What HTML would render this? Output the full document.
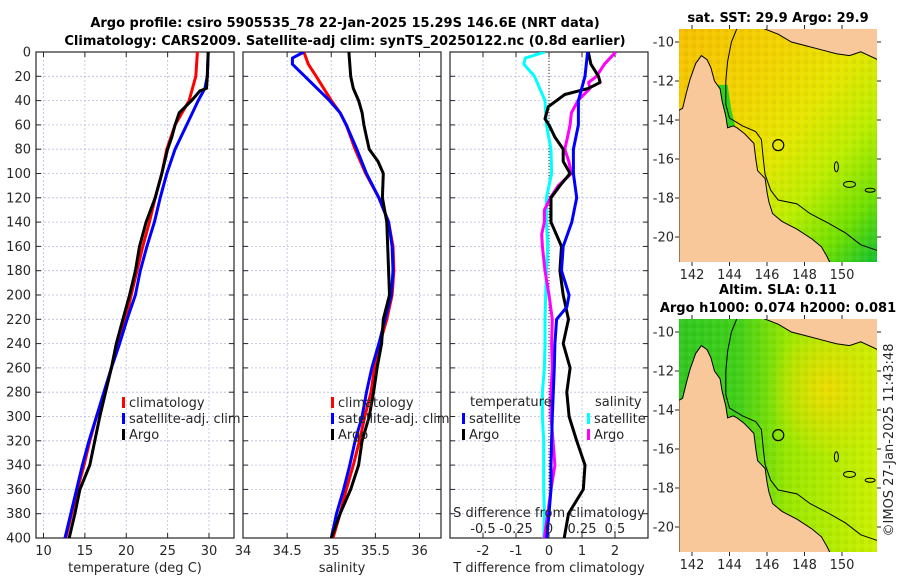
<!DOCTYPE html>
<html><head><meta charset="utf-8">
<style>
html,body{margin:0;padding:0;background:#fff;}
svg{display:block;font-family:"DejaVu Sans","Liberation Sans",sans-serif;}
text{fill:#262626;font-size:13px;}
.b{font-weight:bold;fill:#000;}
</style></head>
<body>
<svg id="fig" width="900" height="580" viewBox="0 0 900 580">
<defs>
<linearGradient id="sstg" x1="0" y1="0" x2="1" y2="1">
<stop offset="0" stop-color="#f6c000"/><stop offset="0.3" stop-color="#f2d400"/><stop offset="0.5" stop-color="#e6e600"/><stop offset="0.68" stop-color="#bcee00"/><stop offset="0.85" stop-color="#70e000"/><stop offset="1" stop-color="#10c030"/>
</linearGradient>
<linearGradient id="slag" x1="0" y1="0" x2="1" y2="0">
<stop offset="0" stop-color="#30c820"/><stop offset="0.3" stop-color="#40d018"/><stop offset="0.55" stop-color="#9ae800"/><stop offset="1" stop-color="#cdf000"/>
</linearGradient>
<radialGradient id="slay" cx="0.75" cy="0.3" r="0.3"><stop offset="0" stop-color="#ecdc00"/><stop offset="1" stop-color="#ecdc00" stop-opacity="0"/></radialGradient>
<pattern id="pix" width="8" height="8" patternUnits="userSpaceOnUse">
<rect x="0" y="0" width="4" height="4" fill="#fff" fill-opacity="0.05"/><rect x="4" y="4" width="4" height="4" fill="#000" fill-opacity="0.04"/>
</pattern>
<clipPath id="c1"><rect x="36" y="52" width="198" height="486"/></clipPath>
<clipPath id="c2"><rect x="243" y="52" width="198" height="486"/></clipPath>
<clipPath id="c3"><rect x="450" y="52" width="198" height="486"/></clipPath>
<clipPath id="cm1"><rect x="679" y="29" width="198" height="233"/></clipPath>
<clipPath id="cm2"><rect x="679" y="319" width="198" height="233"/></clipPath>
</defs>
<text class="b" x="345" y="27" text-anchor="middle">Argo profile: csiro 5905535_78 22-Jan-2025 15.29S 146.6E (NRT data)</text>
<text class="b" x="345" y="45" text-anchor="middle">Climatology: CARS2009. Satellite-adj clim: synTS_20250122.nc (0.8d earlier)</text>
<text class="b" x="778" y="22" text-anchor="middle">sat. SST: 29.9 Argo: 29.9</text>
<text class="b" x="778" y="294" text-anchor="middle">Altim. SLA: 0.11</text>
<text class="b" x="778" y="312" text-anchor="middle">Argo h1000: 0.074 h2000: 0.081</text>
<text x="0" y="0" transform="translate(893,440) rotate(-90)" text-anchor="middle">©IMOS 27-Jan-2025 11:43:48</text>
<g id="root"></g>
</svg>
<script>
// ---- data: depths (m) ----
const depthsT = [0,20,40,60,80,100,120,140,160,180,200,220,240,260,280,300,320,340,360,380,400];
const tempClim = [28.6,28.4,27.6,25.9,24.9,24.3,23.5,22.8,22.0,21.3,20.6,19.9,19.0,18.2,17.4,16.4,15.6,14.9,14.1,13.4,12.7];
const depthsTSat = [0,20,30,40,60,80,100,120,140,160,180,200,220,240,260,280,300,320,340,360,380,400];
const tempSat = [29.9,29.8,29.5,28.7,27.3,25.9,24.9,24.1,23.4,22.5,21.7,21.1,20.1,19.2,18.2,17.3,16.4,15.5,14.7,14.0,13.3,12.6];
const depthsArgo = [0,20,30,32,40,50,60,70,80,100,120,140,160,180,200,220,240,260,280,300,320,340,360,380,400];
const tempArgo = [29.9,29.8,29.7,28.9,27.9,26.4,25.9,25.5,25.0,24.3,23.5,22.4,21.6,21.1,20.4,19.6,18.8,18.2,17.5,16.8,16.2,15.6,14.4,13.8,13.1];

const depthsS = [0,10,20,40,50,60,80,100,120,140,160,180,200,220,240,260,280,300,320,340,360,380,400];
const salClim = [34.69,34.74,34.83,35.0,35.1,35.17,35.27,35.39,35.54,35.65,35.70,35.71,35.69,35.63,35.55,35.49,35.45,35.38,35.32,35.25,35.17,35.10,35.02];
const depthsSSat = [0,5,10,20,40,50,60,80,100,120,140,160,180,200,220,240,260,280,300,320,340,360,380,400];
const salSat = [34.69,34.56,34.56,34.70,34.98,35.1,35.17,35.29,35.40,35.54,35.65,35.69,35.70,35.68,35.61,35.54,35.46,35.40,35.35,35.27,35.21,35.14,35.06,35.0];
const depthsSArgo = [0,20,30,40,50,60,70,80,90,100,120,140,160,180,200,220,240,260,280,300,320,340,360,380,400];
const salArgo = [35.20,35.22,35.25,35.31,35.35,35.37,35.40,35.43,35.53,35.59,35.58,35.63,35.64,35.65,35.66,35.59,35.57,35.52,35.48,35.43,35.35,35.31,35.22,35.10,35.0];

const depthsDT = [0,20,40,60,80,100,120,140,160,180,200,210,220,240,260,280,300,320,340,360,380,400];
const dTSat = [1.17,1.09,0.89,0.89,0.74,0.74,0.84,0.69,0.43,0.38,0.61,0.54,0.23,0.18,0.16,0.13,0.10,0.08,0.06,0.06,0.0,-0.07];
const depthsDTArgo = [0,10,20,25,30,35,45,55,60,70,80,90,100,110,120,140,160,180,200,220,240,260,280,300,320,340,360,380,400];
const dTArgo = [1.19,1.27,1.5,1.55,1.19,0.48,-0.02,-0.12,0,0.18,0.43,0.43,0.64,0.33,0.06,0.06,0.38,0.33,0.43,0.59,0.43,0.64,0.54,0.61,0.84,1.09,1.04,0.59,0.46];
const depthsDS = [0,5,10,20,40,60,80,100,120,140,160,180,200,220,240,260,280,300,320,340,360,380,400];
const dSSat = [-0.03,-0.18,-0.19,-0.11,-0.03,-0.02,0.015,0.02,-0.02,-0.02,-0.01,-0.02,-0.025,-0.03,-0.03,-0.035,-0.05,-0.05,-0.04,-0.04,-0.04,-0.035,-0.04];
const depthsDSArgo = [0,10,20,25,30,40,50,60,70,80,90,100,110,120,130,140,150,160,180,200,220,240,260,280,300,320,340,360,380,400];
const dSArgo = [0.505,0.42,0.36,0.30,0.31,0.22,0.17,0.16,0.14,0.12,0.15,0.17,0.07,0.01,-0.035,-0.035,-0.055,-0.05,-0.03,0,0.025,0.02,0.025,0.015,0.015,0.03,0.045,0.015,-0.01,-0.035];

const depthTicks = [0,20,40,60,80,100,120,140,160,180,200,220,240,260,280,300,320,340,360,380,400];
const tempTicks = [10,15,20,25,30];
const salTicks = [34,34.5,35,35.5,36];
const dTTicks = [-2,-1,0,1,2];
const dSTickLabels = ["-0.5","-0.25","0","0.25","0.5"];
const dSTicks = [-0.5,-0.25,0,0.25,0.5];
const lonTicks = [142,144,146,148,150];
const latTicks = [-10,-12,-14,-16,-18,-20];

const NS="http://www.w3.org/2000/svg";
const root=document.getElementById('root');
function el(tag,attrs,parent){const e=document.createElementNS(NS,tag);for(const k in attrs)e.setAttribute(k,attrs[k]);(parent||root).appendChild(e);return e;}
function txt(s,x,y,anchor,parent){const t=el('text',{x:x,y:y,'text-anchor':anchor||'start'},parent);t.textContent=s;return t;}

const PT=52,PB=538;
const yD=d=>PT+(d/400)*(PB-PT);
function mkX(x0,x1,v0,v1){return v=>x0+(v-v0)/(v1-v0)*(x1-x0);}
const panels=[
 {x0:36,x1:234,fx:mkX(43.5,209,10,30),ticks:tempTicks,clip:'c1',name:'temperature-panel'},
 {x0:243,x1:441,fx:mkX(243,419.5,34,36),ticks:salTicks,clip:'c2',name:'salinity-panel'},
 {x0:450,x1:648,fx:mkX(549,582,0,1),ticks:dTTicks,clip:'c3',name:'difference-panel'}
];
panels.forEach((p,i)=>{
  const g=el('g',{});
  
  
  el('rect',{x:p.x0,y:PT,width:p.x1-p.x0,height:PB-PT,fill:'#fff'},g);
  depthTicks.forEach(d=>{
    const y=yD(d);
    el('line',{x1:p.x0,x2:p.x1,y1:y,y2:y,stroke:'#b8bde0','stroke-width':0.8,'stroke-dasharray':'2,2'},g);
    el('line',{x1:p.x0,x2:p.x0+5,y1:y,y2:y,stroke:'#262626'},g);
    el('line',{x1:p.x1-5,x2:p.x1,y1:y,y2:y,stroke:'#262626'},g);
    if(i===0){const t=txt(String(d),31,y+4.5,'end',g);}
  });
  p.ticks.forEach(v=>{
    const x=p.fx(v);
    el('line',{x1:x,x2:x,y1:PT,y2:PB,stroke:'#b8bde0','stroke-width':0.8,'stroke-dasharray':'2,2'},g);
    el('line',{x1:x,x2:x,y1:PB-5,y2:PB,stroke:'#262626'},g);
    el('line',{x1:x,x2:x,y1:PT,y2:PT+5,stroke:'#262626'},g);
    const t=txt(String(v),x,555,'middle',g);
    
    
  });
  el('rect',{x:p.x0,y:PT,width:p.x1-p.x0,height:PB-PT,fill:'none',stroke:'#262626','stroke-width':1.2},g);
});
function line(fx,depths,vals,color,clip,name){
  const pts=depths.map((d,i)=>fx(vals[i]).toFixed(1)+','+yD(d).toFixed(1)).join(' ');
  const l=el('polyline',{points:pts,fill:'none',stroke:color,'stroke-width':3,'stroke-linejoin':'round','clip-path':'url(#'+clip+')'});
  
  
}
const P=panels;
line(P[0].fx,depthsT,tempClim,'#ff0000','c1','temp-climatology-line');
line(P[0].fx,depthsTSat,tempSat,'#0000ff','c1','temp-satellite-line');
line(P[0].fx,depthsArgo,tempArgo,'#000000','c1','temp-argo-line');
line(P[1].fx,depthsS,salClim,'#ff0000','c2','sal-climatology-line');
line(P[1].fx,depthsSSat,salSat,'#0000ff','c2','sal-satellite-line');
line(P[1].fx,depthsSArgo,salArgo,'#000000','c2','sal-argo-line');
el('line',{x1:P[2].fx(0),x2:P[2].fx(0),y1:PT,y2:PB,stroke:'#333','stroke-width':1,'stroke-dasharray':'1,2'});
const fS=s=>P[2].fx(s*4);
line(fS,depthsDS,dSSat,'#00ffff','c3','sal-diff-satellite-line');
line(fS,depthsDSArgo,dSArgo,'#ff00ff','c3','sal-diff-argo-line');
line(P[2].fx,depthsDTArgo,dTArgo,'#000000','c3','temp-diff-argo-line');
line(P[2].fx,depthsDT,dTSat,'#0000ff','c3','temp-diff-satellite-line');
let t=txt('S difference from climatology',549,517,'middle');
dSTicks.forEach((v,i)=>{const tt=txt(dSTickLabels[i],fS(v),533,'middle');});
t=txt('temperature (deg C)',135,572,'middle');
t=txt('salinity',342,572,'middle');
t=txt('T difference from climatology',549,572,'middle');
function legend(x,y,color,label,name){
  const g=el('g',{});
  
  
  el('rect',{x:x,y:y-10,width:3,height:11,fill:color},g);
  txt(label,x+7,y,'start',g);
}
legend(122,407,'#ff0000','climatology','legend-climatology');
legend(122,423,'#0000ff','satellite-adj. clim','legend-satellite-adj');
legend(122,439,'#000000','Argo','legend-argo');
legend(331,407,'#ff0000','climatology','legend-climatology-2');
legend(331,423,'#0000ff','satellite-adj. clim','legend-satellite-adj-2');
legend(331,439,'#000000','Argo','legend-argo-2');
t=txt('temperature',470,406,'start');
t=txt('salinity',595,406,'start');
legend(462,423,'#0000ff','satellite','legend-temp-satellite');
legend(462,439,'#000000','Argo','legend-temp-argo');
legend(587,423,'#00ffff','satellite','legend-sal-satellite');
legend(587,439,'#ff00ff','Argo','legend-sal-argo');

// ---- maps ----
const coastAus=[[142.5,-10.7],[142.2,-11.1],[141.9,-11.9],[141.7,-12.6],[141.5,-13.4],[141.3,-13.5],[141.3,-21.4],[149.4,-21.4],[149.2,-21.0],[148.9,-20.5],[148.4,-20.1],[147.6,-19.6],[146.8,-19.2],[146.3,-18.8],[146.1,-18.2],[146.0,-17.7],[145.9,-17.0],[145.5,-16.6],[145.4,-16.0],[145.3,-15.2],[144.8,-14.7],[144.4,-14.4],[144.2,-14.3],[143.9,-14.4],[143.8,-13.8],[143.6,-13.0],[143.5,-12.4],[143.2,-12.0],[143.0,-11.3],[142.8,-10.9]];
const coastPNG=[[145.8,-9.3],[146.6,-9.6],[147.3,-10.0],[148.1,-10.2],[148.9,-10.4],[149.7,-10.6],[150.4,-10.7],[151.0,-10.5],[151.9,-10.9],[151.9,-9.3]];
const shelf=[[144.4,-9.3],[144.1,-10.0],[143.9,-11.0],[143.8,-12.0],[143.8,-13.2],[144.0,-13.9],[144.7,-14.3],[145.4,-14.6],[145.7,-15.0],[145.8,-16.0],[145.9,-16.8],[146.2,-17.6],[146.6,-18.1],[147.6,-18.3],[148.3,-18.8],[149.3,-19.3],[150.2,-19.8],[151.0,-20.4],[151.9,-20.7]];
const greenStrip=[[143.2,-12.2],[143.9,-12.2],[144.1,-13.5],[144.3,-14.3],[143.9,-14.4],[143.6,-13.0]];
function drawMap(y0,fill,clip,name,extra,strip){
  const x0=679,w=198,h=233;
  const lon=v=>692+(v-142)*18.75;
  const lat=v=>(y0+13)+(-10-v)*19.5;
  const g=el('g',{});
  
  
  const gc=el('g',{'clip-path':'url(#'+clip+')'},g);
  el('rect',{x:x0,y:y0,width:w,height:h,fill:fill},gc);
  if(extra) el('rect',{x:x0,y:y0,width:w,height:h,fill:extra},gc);
  el('rect',{x:x0,y:y0,width:w,height:h,fill:'url(#pix)'},gc);
  const pp=a=>a.map(p=>lon(p[0]).toFixed(1)+','+lat(p[1]).toFixed(1)).join(' ');
  if(strip) el('polygon',{points:pp(greenStrip),fill:'#30d020'},gc);
  el('polygon',{points:pp(coastAus),fill:'#f9c89a',stroke:'#000','stroke-width':1},gc);
  el('polygon',{points:pp(coastPNG),fill:'#f9c89a',stroke:'#000','stroke-width':1},gc);
  el('polyline',{points:pp(shelf),fill:'none',stroke:'#000','stroke-width':1},gc);
  el('ellipse',{cx:lon(149.7),cy:lat(-16.4),rx:2,ry:5,fill:'none',stroke:'#000'},gc);
  el('ellipse',{cx:lon(150.4),cy:lat(-17.3),rx:6,ry:3,fill:'none',stroke:'#000'},gc);
  el('ellipse',{cx:lon(151.5),cy:lat(-17.6),rx:5,ry:2,fill:'none',stroke:'#000'},gc);
  const m=el('circle',{cx:lon(146.6),cy:lat(-15.29),r:5.5,fill:'none',stroke:'#000','stroke-width':1.2},g);
  
  
  latTicks.forEach(v=>{
    const y=lat(v);
    el('line',{x1:x0+w,x2:x0+w+4,y1:y,y2:y,stroke:'#262626'},g);
    el('line',{x1:x0-4,x2:x0,y1:y,y2:y,stroke:'#262626'},g);
    const tt=txt(String(v),674,y+4.5,'end',g);
    
    
  });
  lonTicks.forEach(v=>{
    const x=lon(v);
    el('line',{x1:x,x2:x,y1:y0+h,y2:y0+h+4,stroke:'#262626'},g);
    el('line',{x1:x,x2:x,y1:y0-4,y2:y0,stroke:'#262626'},g);
    const tt=txt(String(v),x,y0+h+17,'middle',g);
    
    
  });
}
drawMap(29,'url(#sstg)','cm1','sst-map',null,true);
drawMap(319,'url(#slag)','cm2','sla-map','url(#slay)',false);
</script>
</body></html>
